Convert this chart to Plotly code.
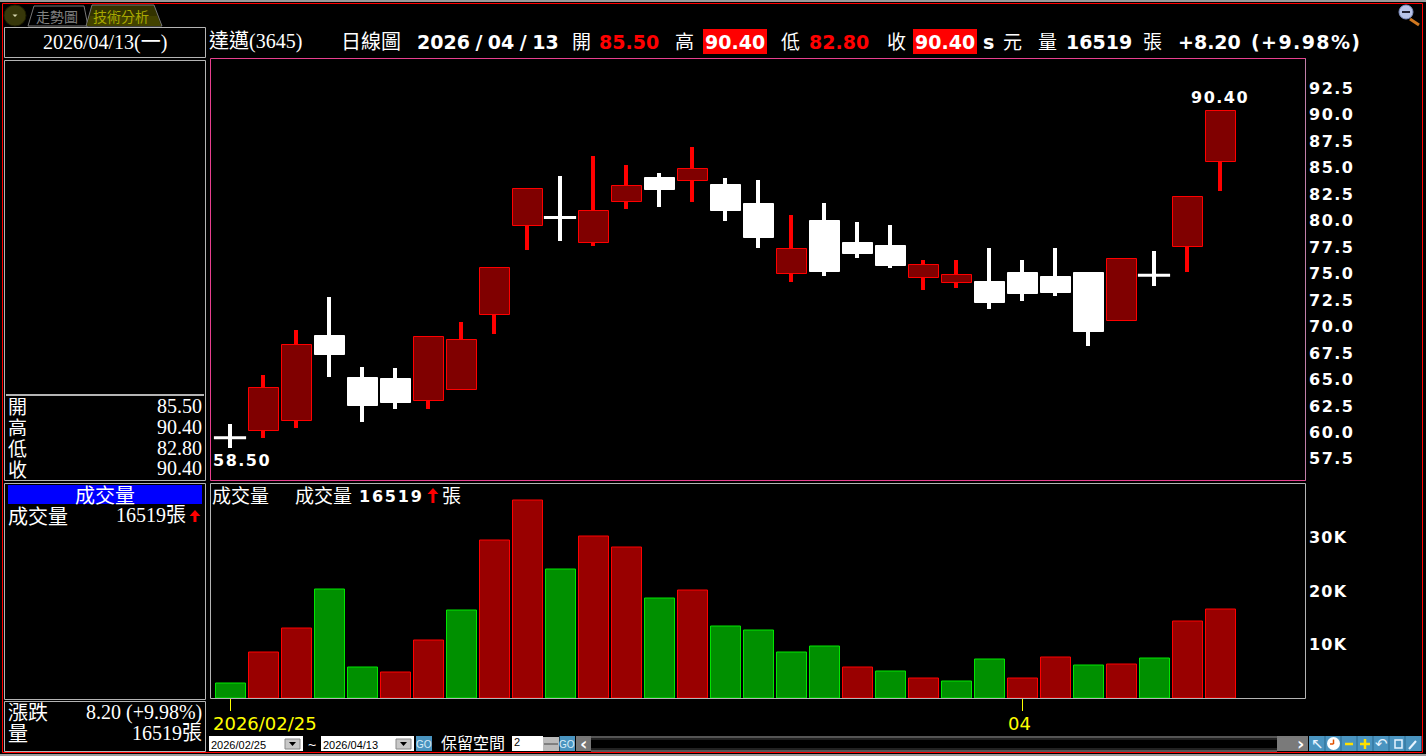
import plotly.graph_objects as go

W, H = 1426, 756

# ---------- data ----------
dates = ["2026/02/25","2026/02/26","2026/03/02","2026/03/03","2026/03/04","2026/03/05","2026/03/06",
         "2026/03/09","2026/03/10","2026/03/11","2026/03/12","2026/03/13","2026/03/16","2026/03/17",
         "2026/03/18","2026/03/19","2026/03/20","2026/03/23","2026/03/24","2026/03/25","2026/03/26",
         "2026/03/27","2026/03/30","2026/03/31","2026/04/01","2026/04/02","2026/04/07","2026/04/08",
         "2026/04/09","2026/04/10","2026/04/13"]
opens  = [59.50,60.10,61.10,69.10,65.10,65.00,62.95,64.00,71.10,79.50,80.30,77.90,81.75,84.00,83.75,
          83.35,81.55,74.95,79.95,77.85,77.60,74.60,74.10,74.20,75.05,74.65,75.05,70.50,74.85,77.50,85.50]
closes = [59.50,64.20,68.30,67.30,62.50,62.75,69.05,68.75,75.55,82.95,80.30,80.95,83.25,82.90,84.85,
          80.90,78.35,77.35,75.15,76.90,75.70,75.85,74.90,72.20,73.05,73.15,69.45,76.40,74.85,82.20,90.40]
highs  = [60.80,65.40,69.70,72.80,66.15,66.05,69.05,70.40,75.55,83.05,84.20,86.10,85.25,84.50,86.95,
          84.00,83.80,80.50,81.65,79.85,79.55,76.25,76.25,77.40,76.25,77.40,75.15,76.40,77.10,82.20,90.40]
lows   = [58.50,59.50,60.40,65.20,61.00,62.20,62.20,64.00,69.25,77.20,78.05,77.60,81.10,81.25,81.75,
          79.95,77.40,74.25,74.75,76.45,75.50,73.50,73.60,71.70,72.40,72.85,68.15,70.50,73.80,75.20,82.80]
volumes = [2690,8490,12970,20260,5680,4750,10730,16340,29420,36900,24000,30170,28110,18580,20070,
           13350,12600,8490,9610,5680,4930,3630,3070,7180,3630,7550,6060,6240,7360,14280,16519]
vol_up = [0,1,1,0,0,1,1,0,1,1,0,1,1,0,1,0,0,0,0,1,0,1,0,0,1,1,0,1,0,1,1]
price_ticks = [57.5,60,62.5,65,67.5,70,72.5,75,77.5,80,82.5,85,87.5,90,92.5]
vol_ticks = [10000,20000,30000]
vol_tick_text = ["10K","20K","30K"]
x_ticks = ["2026/02/25","2026/04/01"]
x_tick_text = ["2026/02/25","04"]

# ---------- palette / fonts ----------
RED, DK_RED, VOL_RED = "#ff0000", "#800000", "#990000"
VOL_GREEN, VOL_GREEN_L = "#009000", "#00e600"
GRAY, PINK = "#b4b4b4", "#e8408f"
BOLD = "DejaVu Sans"
SERIF = "Liberation Serif, Noto Sans CJK TC, serif"
CJK = "Noto Sans CJK TC, sans-serif"
BLUE = "#4a94c0"

def px(x): return x / W
def py(y): return 1 - y / H
def sp(s, n): return f'<span style="letter-spacing:{n}px">{s}</span>'

annos, shapes = [], []
def T(x, y, s, size=20, color="#fff", font=SERIF, anchor="left", bold=False):
    if bold: s = f"<b>{s}</b>"
    annos.append(dict(xref="paper", yref="paper", x=px(x), y=py(y), text=s, showarrow=False,
                      xanchor=anchor, yanchor="middle", borderpad=0, borderwidth=0,
                      font=dict(family=font, size=size, color=color)))
def R(x0, y0, x1, y1, line=None, fill=None, lw=1):
    shapes.append(dict(type="rect", xref="paper", yref="paper", x0=px(x0), x1=px(x1), y0=py(y0), y1=py(y1),
                       line=dict(color=line or "rgba(0,0,0,0)", width=lw if line else 0),
                       fillcolor=fill or "rgba(0,0,0,0)", layer="above"))
def L(x0, y0, x1, y1, color, lw=1):
    shapes.append(dict(type="line", xref="paper", yref="paper", x0=px(x0), x1=px(x1), y0=py(y0), y1=py(y1),
                       line=dict(color=color, width=lw), layer="above"))
def C(x0, y0, x1, y1, fill, line=None, lw=1):
    shapes.append(dict(type="circle", xref="paper", yref="paper", x0=px(x0), x1=px(x1), y0=py(y0), y1=py(y1),
                       fillcolor=fill, line=dict(color=line or "rgba(0,0,0,0)", width=lw if line else 0), layer="above"))
def P(points, fill=None, line=None, lw=1):
    d = "M " + " L ".join(f"{px(a):.5f},{py(b):.5f}" for a, b in points) + " Z"
    shapes.append(dict(type="path", xref="paper", yref="paper", path=d, fillcolor=fill or "rgba(0,0,0,0)",
                       line=dict(color=line or "rgba(0,0,0,0)", width=lw if line else 0), layer="above"))
def arrow(cx, top, bot):
    P([(cx, top), (cx + 5.5, top + 6), (cx + 1.5, top + 6), (cx + 1.5, bot), (cx - 1.5, bot),
       (cx - 1.5, top + 6), (cx - 5.5, top + 6)], fill=RED)

# ---------- traces ----------
fig = go.Figure()
up = [c > o for o, c in zip(opens, closes)]
doji = [o == c for o, c in zip(opens, closes)]
BAR_W, BAR_OFF, WICK_W = 30 / 33, -14.5 / 33, 4 / 33

fig.add_bar(x=dates, base=lows, y=[h - l for h, l in zip(highs, lows)], width=WICK_W, yaxis="y",
            marker=dict(color=[RED if u else "#fff" for u in up], line=dict(width=0)), hoverinfo="skip")
body_idx = [i for i in range(len(dates)) if not doji[i]]
fig.add_bar(x=[dates[i] for i in body_idx],
            base=[min(opens[i], closes[i]) for i in body_idx],
            y=[abs(closes[i] - opens[i]) for i in body_idx],
            width=BAR_W, offset=BAR_OFF, yaxis="y",
            marker=dict(color=[DK_RED if up[i] else "#fff" for i in body_idx],
                        line=dict(color=[RED if up[i] else "#fff" for i in body_idx], width=1)))
fig.add_scatter(x=[d for d, f in zip(dates, doji) if f], y=[c for c, f in zip(closes, doji) if f], yaxis="y",
                mode="markers", marker=dict(symbol="line-ew", size=23, line=dict(color="#fff", width=3)))
fig.add_bar(x=dates, y=volumes, width=BAR_W, offset=BAR_OFF, yaxis="y2",
            marker=dict(color=[VOL_RED if u else VOL_GREEN for u in vol_up],
                        line=dict(color=[RED if u else VOL_GREEN_L for u in vol_up], width=1)))

# ---------- axes ----------
TICK = dict(family=BOLD, size=16, color="#fff", weight="bold")
PX_PER_UNIT = 10.586
Y_90_4 = 110.6
price_top = 90.40 + (Y_90_4 - 58) / PX_PER_UNIT
price_bot = 90.40 - (480.5 - Y_90_4) / PX_PER_UNIT
VOL_BASE = 698.2
fig.update_layout(
    width=W, height=H, autosize=False, margin=dict(l=0, r=0, t=0, b=0, pad=0),
    paper_bgcolor="#000", plot_bgcolor="#000", showlegend=False, barmode="overlay", bargap=0,
    xaxis=dict(domain=[px(210), px(1306)], anchor="y2", type="category", categoryorder="array", categoryarray=dates,
               range=[-20 / 33, (1306 - 230) / 33], tickmode="array", tickvals=x_ticks, ticktext=x_tick_text,
               ticks="outside", ticklen=12, tickwidth=1, tickcolor="#ffff00", showticklabels=False,
               showgrid=False, zeroline=False, showline=False, fixedrange=True),
    yaxis=dict(domain=[py(480.5), py(58)], range=[price_bot, price_top], side="right", anchor="free", position=px(1306),
               tickmode="array", tickvals=price_ticks, ticktext=[sp(f"{v:.1f}", 1.5) for v in price_ticks],
               tickfont=TICK, ticks="", ticklabelstandoff=2, showgrid=False, zeroline=False, showline=False, fixedrange=True),
    yaxis2=dict(domain=[py(VOL_BASE), py(483.5)], range=[0, (VOL_BASE - 483.5) / 5.35 * 1000], side="right", anchor="free",
                position=px(1306), tickmode="array", tickvals=vol_ticks, ticktext=[sp(t, 1.2) for t in vol_tick_text],
                tickfont=TICK, ticks="", ticklabelstandoff=2, showgrid=False, zeroline=False, showline=False, fixedrange=True),
)

# on-chart labels tied to data
annos.append(dict(x=dates[-1], y=highs[-1], xref="x", yref="y", text="<b>" + sp(f"{highs[-1]:.2f}", 1.5) + "</b>",
                  showarrow=False, yanchor="bottom", yshift=2, font=dict(family=BOLD, size=16, color="#fff")))
annos.append(dict(x=dates[0], y=lows[0], xref="x", yref="y", text="<b>" + sp(f"{lows[0]:.2f}", 1.5) + "</b>",
                  showarrow=False, xanchor="left", xshift=-19, yanchor="top", yshift=-1,
                  font=dict(family=BOLD, size=16, color="#fff")))
annos.append(dict(x=x_ticks[0], y=0, xref="x", yref="y2", text=x_tick_text[0], showarrow=False, xanchor="left",
                  xshift=-19, yanchor="top", yshift=-13, font=dict(family="DejaVu Sans", size=18, color="#ffff00")))
annos.append(dict(x=x_ticks[1], y=0, xref="x", yref="y2", text=x_tick_text[1], showarrow=False, xanchor="center",
                  xshift=-3, yanchor="top", yshift=-13, font=dict(family="DejaVu Sans", size=18, color="#ffff00")))

# ---------- chrome ----------
R(0, 0, W, 2, fill="#9a9a9a")
R(0, 754, W, H, fill="#9a9a9a")
R(2.5, 3.5, 1422.5, 752.5, line=RED)
# chart panels
R(210.5, 58.5, 1305.5, 480.5, line=PINK)
L(1305.5, 58.5, 1305.5, 480.5, "#c07fa8")
R(210.5, 483.5, 1305.5, 698.5, line=GRAY)
# left column
R(4.5, 27.5, 205.5, 57.5, line=GRAY)
R(4.5, 60.5, 205.5, 480.5, line=GRAY)
L(6, 395, 204, 395, GRAY, 2)
R(4.5, 483.5, 205.5, 699.5, line=GRAY)
R(4.5, 701.5, 205.5, 751.5, line=GRAY)
R(8, 485, 202, 504, fill="#0000ff")

# tabs
C(4, 5, 26, 26, "#37370a", "#1e1e00")
P([(12.5, 14.5), (17.5, 14.5), (15, 17)], fill="#d8d8b0")
P([(28, 26), (34, 6), (84, 6), (88, 26)], line="#777")
P([(86, 26), (92, 5), (154, 5), (162, 26)], fill="#333300", line="#777")
P([(87, 26), (90, 16), (157, 16), (161, 26)], fill="#424200")
T(56.5, 16, "走勢圖", 14, "#808080", CJK, "center")
T(120.5, 16, "技術分析", 14, "#a8a800", CJK, "center")
# magnifier
L(1410, 19, 1419, 25, "#d07820", 3)
C(1399, 5, 1413, 19, "#b8c4e8", "#8090c0")
L(1402, 12, 1410, 12, "#223", 2)

# header row
T(209, 41.5, "達邁(3645)", 20)
T(341, 41, "日線圖", 20, font=CJK)
T(417, 42, "202" + sp("6/", 5.5) + "0" + sp("4/", 5.5) + "13", 19, font=BOLD, bold=True)
T(572, 41, "開", 19, font=CJK)
T(599, 42, "85.50", 19, RED, BOLD, bold=True)
T(675, 41, "高", 19, font=CJK)
R(703, 29, 767, 54, fill=RED)
T(735, 42, "90.40", 19, "#fff", BOLD, "center", True)
T(781, 41, "低", 19, font=CJK)
T(809, 42, "82.80", 19, RED, BOLD, bold=True)
T(887, 41, "收", 19, font=CJK)
R(913, 29, 977, 54, fill=RED)
T(945, 42, "90.40", 19, "#fff", BOLD, "center", True)
T(983, 42, "s", 19, font=BOLD, bold=True)
T(1003, 41, "元", 19, font=CJK)
T(1038, 41, "量", 19, font=CJK)
T(1066, 42, "16519", 19, font=BOLD, bold=True)
T(1143, 41, "張", 19, font=CJK)
T(1178, 42, "+8.20", 19, font=BOLD, bold=True)
T(1251, 42, sp("(+9.98%)", 1.4), 19, font=BOLD, bold=True)

# left text
T(105, 42, "2026/04/13(一)", 20, anchor="center")
for yy, lab, val in [(405, "開", "85.50"), (426, "高", "90.40"), (447, "低", "82.80"), (468, "收", "90.40")]:
    T(8, yy, lab, 19, font=CJK)
    T(202, yy + 0.5, val, 20, anchor="right")
T(105, 494, "成交量", 20, font=CJK, anchor="center")
T(8, 515, "成交量", 20, font=CJK)
T(186, 515, "16519張", 20, anchor="right")
arrow(195, 510, 522)
T(8, 711.5, "漲跌", 20, font=CJK)
T(202, 712, "8.20 (+9.98%)", 20, anchor="right")
T(8, 732.5, "量", 20, font=CJK)
T(202, 732.5, "16519張", 20, anchor="right")

# volume panel caption
T(212, 494.5, "成交量", 19, font=CJK)
T(295, 494.5, "成交量", 19, font=CJK)
T(359, 496, sp("16519", 1.8), 16, font=BOLD, bold=True)
arrow(433, 488, 503)
T(442, 494.5, "張", 19, font=CJK)

# bottom controls
def combo(x0, x1, s):
    R(x0, 736, x1, 751, fill="#fff")
    R(x1 - 18, 739, x1 - 3, 749, fill="#c8c8c8", line="#888")
    P([(x1 - 14, 742), (x1 - 7, 742), (x1 - 10.5, 746)], fill="#000")
    T(x0 + 2, 745, s, 11, "#000", "Liberation Sans")
def go_btn(x0, x1):
    R(x0, 736, x1, 751, fill=BLUE)
    T((x0 + x1) / 2, 744, "GO", 10, "#d8ecf8", "Liberation Sans", "center")
combo(209, 303, "2026/02/25")
T(312, 745, "~", 14, font="Liberation Sans", anchor="center")
combo(321, 414, "2026/04/13")
go_btn(416, 432)
T(441, 741.5, "保留空間", 16, font=CJK)
R(512, 736, 543, 751, fill="#fff")
T(514, 742, "2", 11, "#000", "Liberation Sans")
R(543, 737, 559, 751, fill="#bbb")
L(544, 744, 558, 744, "#444")
go_btn(559.5, 575)
R(576, 736, 591, 751, fill="#777")
T(583.5, 743, "‹", 18, "#fff", BOLD, "center", True)
R(591, 736, 1277, 752, fill="#555")
R(591, 738, 1277, 750, fill="#222")
R(591, 740, 1277, 748, fill="#000")
R(1277, 736, 1293, 751, fill="#7a7a7a")
R(1293, 736, 1308, 751, fill="#7a7a7a")
T(1300.5, 743, "›", 18, "#fff", BOLD, "center", True)
# toolbar
R(1309, 736, 1421.5, 751, fill=BLUE)
for k in range(1, 7):
    L(1309 + 16 * k, 736, 1309 + 16 * k, 751, "#2a6a90")
T(1317, 744, "↖", 15, "#e8f4ff", BOLD, "center")
C(1327, 737, 1340, 750, "#fff")
L(1333.5, 739.5, 1333.5, 744, "#e05000", 1.5)
L(1333.5, 744, 1330, 744, "#e05000", 1.5)
L(1345, 744, 1353, 744, "#ffe000", 2.5)
L(1360, 744, 1370, 744, "#ffe000", 2.5)
L(1365, 739, 1365, 749, "#ffe000", 2.5)
T(1381, 744, "↶", 15, "#e8f4ff", BOLD, "center")
R(1395, 740, 1402, 748, line="#e8f4ff", lw=1.5)
L(1409, 749, 1416, 741, "#e8f4ff", 2)

fig.update_layout(annotations=annos, shapes=shapes)
fig.write_html("out.html", config=dict(displayModeBar=False, responsive=False),
               post_script="document.body.style.margin='0';document.body.style.background='#000';document.documentElement.style.overflow='hidden';")
